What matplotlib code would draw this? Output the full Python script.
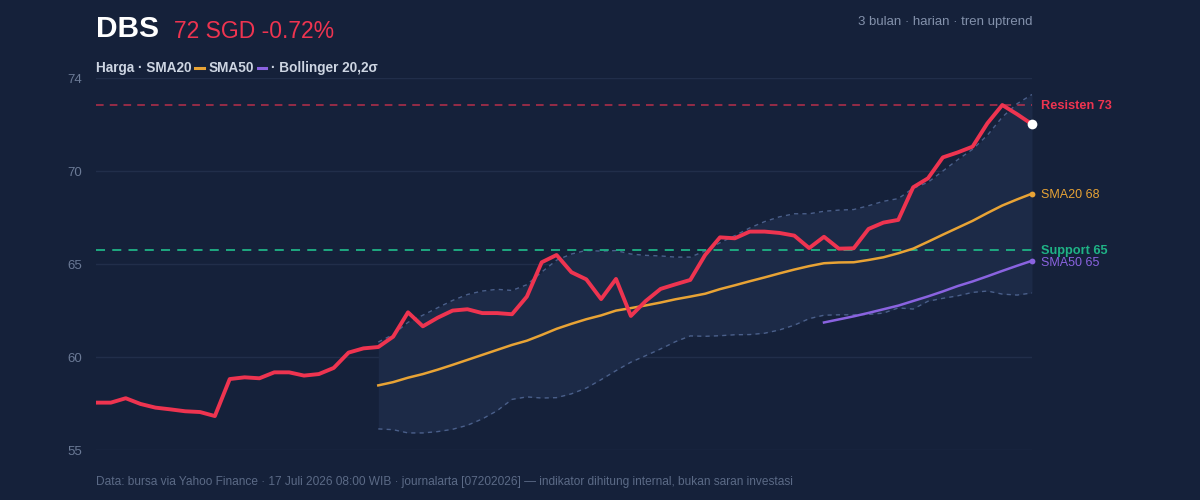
import matplotlib
matplotlib.use("Agg")
import matplotlib.pyplot as plt
from matplotlib.lines import Line2D
import numpy as np

plt.rcParams['font.family'] = ['Liberation Sans', 'DejaVu Sans']

ticker = "DBS"
currency = "SGD"
price = [57.47, 57.47, 57.70, 57.40, 57.21, 57.12, 57.02, 56.98, 56.77, 58.70,
         58.79, 58.74, 59.05, 59.05, 58.88, 58.96, 59.28, 60.08, 60.30, 60.37,
         60.91, 62.18, 61.45, 61.90, 62.27, 62.34, 62.14, 62.14, 62.08, 63.00,
         64.79, 65.17, 64.27, 63.90, 62.87, 63.92, 61.99, 62.77, 63.40, 63.64,
         63.87, 65.17, 66.09, 66.04, 66.39, 66.39, 66.32, 66.18, 65.53, 66.12,
         65.50, 65.52, 66.53, 66.86, 67.00, 68.70, 69.17, 70.26, 70.52, 70.82,
         72.04, 72.99, 72.51, 71.99]
# SMA20 and Bollinger(20, 2σ) from day 20 onward, SMA50 from day 50 onward
sma20 = [58.37, 58.54, 58.77, 58.96, 59.19, 59.44, 59.70, 59.96, 60.22, 60.48,
         60.70, 61.00, 61.32, 61.58, 61.82, 62.02, 62.27, 62.40, 62.54, 62.69,
         62.86, 63.00, 63.15, 63.39, 63.59, 63.80, 64.00, 64.21, 64.41, 64.59,
         64.74, 64.78, 64.79, 64.91, 65.05, 65.26, 65.50, 65.86, 66.23, 66.59,
         66.95, 67.36, 67.75, 68.07, 68.37]
sma50 = [61.65, 61.81, 61.97, 62.15, 62.34, 62.53, 62.77, 63.01, 63.27, 63.55,
         63.79, 64.06, 64.34, 64.61, 64.87]
bb_upper = [60.63, 61.02, 61.66, 62.03, 62.42, 62.80, 63.11, 63.29, 63.38, 63.32,
            63.62, 64.28, 64.90, 65.22, 65.41, 65.37, 65.40, 65.22, 65.15, 65.12,
            65.06, 65.06, 65.38, 65.81, 66.18, 66.58, 66.91, 67.16, 67.32, 67.32,
            67.45, 67.51, 67.54, 67.74, 67.97, 68.11, 68.65, 68.96, 69.55, 70.14,
            70.68, 71.42, 72.36, 73.06, 73.54]
bb_lower = [56.10, 56.06, 55.89, 55.89, 55.96, 56.08, 56.29, 56.62, 57.05, 57.64,
            57.77, 57.71, 57.73, 57.93, 58.23, 58.67, 59.14, 59.58, 59.92, 60.27,
            60.65, 60.95, 60.93, 60.96, 61.01, 61.02, 61.09, 61.26, 61.51, 61.85,
            62.03, 62.05, 62.05, 62.07, 62.14, 62.41, 62.35, 62.76, 62.91, 63.04,
            63.22, 63.29, 63.13, 63.08, 63.19]
resistance = 73.0
support = 65.45
y_ticks = [55.0, 59.85, 64.7, 69.55, 74.4]
y_tick_labels = ["55", "60", "65", "70", "74"]

BG = '#15213a'
FILL = '#1c2a47'
GRID = '#212e4a'
RED = '#ee3450'
ORANGE = '#e8a335'
PURPLE = '#8a63e0'
GREEN = '#1fb386'
BAND = '#4a5f8a'

W, H = 1200, 500
fig = plt.figure(figsize=(12, 5), dpi=100, facecolor=BG)
ax = fig.add_axes([96 / W, 50 / H, 936 / W, 372 / H])
ax.set_facecolor(BG)
for sp in ax.spines.values():
    sp.set_visible(False)

n = len(price)
x = np.arange(n)
x20 = x[n - len(sma20):]
x50 = x[n - len(sma50):]
ax.set_xlim(0, n - 1)
ax.set_ylim(y_ticks[0], y_ticks[-1])
ax.set_xticks([])
ax.set_yticks(y_ticks)
ax.set_yticklabels(y_tick_labels)
ax.tick_params(axis='y', length=0, pad=10, labelsize=9.5, labelcolor='#6b7a96')
for t in y_ticks:
    ax.axhline(t, color=GRID, lw=1, zorder=0)

ax.fill_between(x20, bb_lower, bb_upper, color=FILL, lw=0, zorder=1)
ax.plot(x20, bb_upper, color=BAND, lw=1, ls=(0, (3, 3)), zorder=2)
ax.plot(x20, bb_lower, color=BAND, lw=1, ls=(0, (3, 3)), zorder=2)

ax.axhline(resistance, color=RED, lw=1.1, ls=(0, (5, 4)), alpha=0.75, zorder=2)
ax.axhline(support, color=GREEN, lw=1.3, ls=(0, (5, 4)), zorder=2)

ax.plot(x20, sma20, color=ORANGE, lw=1.8, zorder=3)
ax.plot(x50, sma50, color=PURPLE, lw=1.8, zorder=3)
ax.plot(x, price, color=RED, lw=2.8, zorder=4)

ax.plot([x[-1]], [sma20[-1]], 'o', color=ORANGE, ms=4.2, mew=0, clip_on=False, zorder=5)
ax.plot([x[-1]], [sma50[-1]], 'o', color=PURPLE, ms=4.2, mew=0, clip_on=False, zorder=5)
ax.plot([x[-1]], [price[-1]], 'o', color='white', ms=7, mew=0, clip_on=False, zorder=6)

def rlabel(txt, val, color, bold, dy=-1.1):
    ax.annotate(txt, xy=(x[-1], val), xytext=(6.5, dy), textcoords='offset points',
                va='center', ha='left', color=color,
                fontsize=9.2 if bold else 9.0,
                fontweight='bold' if bold else 'normal', annotation_clip=False)

rlabel(f"Resisten {resistance:.0f}", resistance, RED, True)
rlabel(f"SMA20 {sma20[-1]:.0f}", sma20[-1], ORANGE, False)
rlabel(f"Support {support:.0f}", support, GREEN, True)
rlabel(f"SMA50 {sma50[-1]:.0f}", sma50[-1], PURPLE, False, dy=-1.6)

chg = (price[-1] / price[-2] - 1) * 100
fig.text(96 / W, 1 - 29 / H, ticker, color='white', fontsize=21.5, fontweight='bold', va='center')
fig.text(174 / W, 1 - 31 / H, f"{price[-1]:.0f} {currency} {chg:.2f}%", color=RED, fontsize=16.5, va='center')
fig.text(1032 / W, 1 - 22 / H, "3 bulan · harian · tren uptrend", color='#8391ab', fontsize=9.5,
         ha='right', va='center')
fig.text(96 / W, 1 - 482 / H,
         "Data: bursa via Yahoo Finance · 17 Juli 2026 08:00 WIB · journalarta [07202026] — indikator dihitung internal, bukan saran investasi",
         color='#5b6a86', fontsize=8.6, va='center')

# legend line
fig.canvas.draw()
r = fig.canvas.get_renderer()
cx = 96
lbase = 1 - 72 / H
ldash = 1 - 67.7 / H
def piece(txt):
    global cx
    t = fig.text(cx / W, lbase, txt, color='#cdd5e2', fontsize=9.8, fontweight='bold', va='baseline')
    bb = t.get_window_extent(renderer=r)
    cx += bb.width
def dash(color):
    global cx
    cx += 4
    fig.add_artist(Line2D([cx / W, (cx + 8) / W], [ldash, ldash], color=color, lw=2.2,
                          transform=fig.transFigure))
    cx += 8 + 5
piece("Harga · SMA20")
dash(ORANGE)
piece("SMA50")
dash(PURPLE)
piece("· Bollinger 20,2σ")

fig.savefig("out.png", dpi=100, facecolor=BG)
